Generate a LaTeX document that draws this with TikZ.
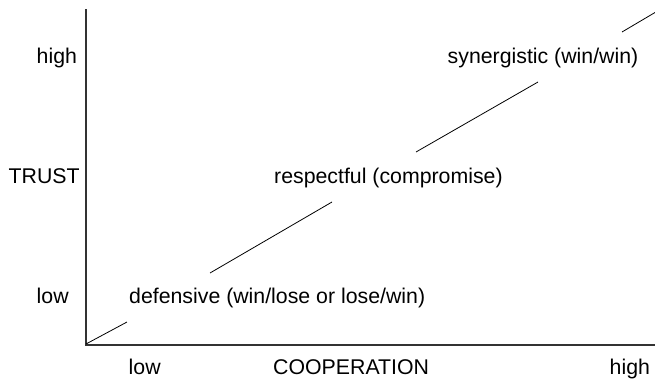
\documentclass[tikz,border=0pt]{standalone}
\usepackage{fontspec}
\setmainfont{Liberation Sans}
\begin{document}
\begin{tikzpicture}[x=1pt,y=-1pt,
  lbl/.style={anchor=base west,inner sep=0pt,font=\fontsize{21.3}{25}\selectfont},
  axis/.style={draw=black!80,line width=1.1pt},
  diag/.style={draw=black,line width=0.8pt}]
\useasboundingbox[fill=white] (0,0) rectangle (655,380);
% axes
\coordinate (top) at (86,9);
\coordinate (origin) at (86,345);
\coordinate (right) at (655,345);
\draw[axis] (top) -- (origin) -- (right);
% diagonal segments
\coordinate (d0) at (86,344);
\coordinate (d1) at (127,322);
\coordinate (d2) at (210,273);
\coordinate (d3) at (332,202);
\coordinate (d4) at (416,152);
\coordinate (d5) at (538,82);
\coordinate (d6) at (622,32);
\coordinate (d7) at (655,12.5);
\draw[diag] (d0) -- (d1);
\draw[diag] (d2) -- (d3);
\draw[diag] (d4) -- (d5);
\draw[diag] (d6) -- (d7);
% y labels
\node[lbl] (yhigh) at (36.5,63) {high};
\node[lbl] (ytrust) at (8.5,183) {TRUST};
\node[lbl] (ylow) at (36.5,303) {low};
% x labels
\node[lbl] (xlow) at (128.5,374) {low};
\node[lbl] (xcoop) at (273,374) {COOPERATION};
\node[lbl] (xhigh) at (609.5,374) {high};
% regions
\node[lbl] (def) at (129,303) {defensive (win/lose or lose/win)};
\node[lbl] (resp) at (274,183) {respectful (compromise)};
\node[lbl] (syn) at (447.5,63) {synergistic (win/win)};
\end{tikzpicture}
\end{document}
